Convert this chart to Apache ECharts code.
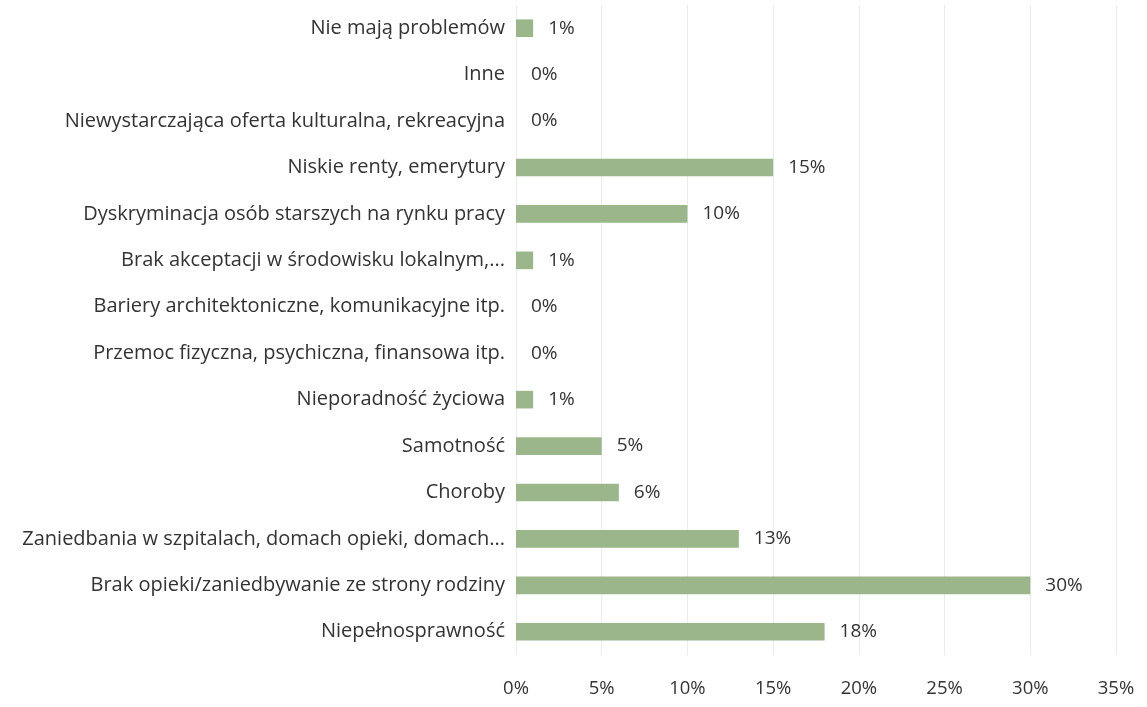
<!DOCTYPE html>
<html>
<head>
<meta charset="utf-8">
<script src="https://cdn.jsdelivr.net/npm/echarts@6/dist/echarts.min.js"></script>
<style>
  html, body { margin: 0; padding: 0; background: #fff; }
  #chart { width: 1147px; height: 707px; }
</style>
</head>
<body>
<div id="chart"></div>
<script>
// kategorie od dołu do góry
var categories = [
    'Niepełnosprawność',
    'Brak opieki/zaniedbywanie ze strony rodziny',
    'Zaniedbania w szpitalach, domach opieki, domach...',
    'Choroby',
    'Samotność',
    'Nieporadność życiowa',
    'Przemoc fizyczna, psychiczna, finansowa itp.',
    'Bariery architektoniczne, komunikacyjne itp.',
    'Brak akceptacji w środowisku lokalnym,...',
    'Dyskryminacja osób starszych na rynku pracy',
    'Niskie renty, emerytury',
    'Niewystarczająca oferta kulturalna, rekreacyjna',
    'Inne',
    'Nie mają problemów'
];
var values = [18, 30, 13, 6, 5, 1, 0, 0, 1, 10, 15, 0, 0, 1]; // %
var xTicks = [0, 35, 5]; // min, max, krok

var chart = echarts.init(document.getElementById('chart'));
var font = 'Open Sans';
var textColor = '#333333';
var option = {
    animation: false,
    grid: { left: 516, right: 31, top: 5, bottom: 52 },
    xAxis: {
        type: 'value',
        min: xTicks[0],
        max: xTicks[1],
        interval: xTicks[2],
        axisLine: { show: false },
        axisTick: { show: false },
        splitLine: { show: true, lineStyle: { color: '#ebebeb', width: 1 } },
        axisLabel: {
            formatter: '{value}%',
            color: textColor,
            fontFamily: font,
            fontSize: 18.5,
            margin: 24
        }
    },
    yAxis: {
        type: 'category',
        data: categories,
        axisLine: { show: false },
        axisTick: { show: false },
        axisLabel: {
            color: textColor,
            fontFamily: font,
            fontSize: 20,
            margin: 11
        }
    },
    series: [{
        type: 'bar',
        data: values,
        barWidth: '38%',
        itemStyle: { color: '#9ab68a' },
        label: {
            show: true,
            position: 'right',
            distance: 15,
            formatter: '{c}%',
            color: textColor,
            fontFamily: font,
            fontSize: 19
        }
    }]
};
chart.setOption(option);
</script>
</body>
</html>
